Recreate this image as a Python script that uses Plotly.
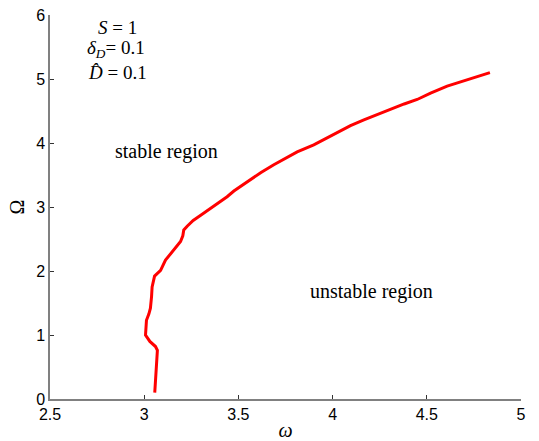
import plotly.graph_objects as go

# curve data (omega, Omega)
omega = [3.056, 3.060, 3.066, 3.072, 3.070, 3.060, 3.030, 3.007, 3.008, 3.012, 3.025,
         3.033, 3.039, 3.042, 3.055, 3.087, 3.113, 3.150, 3.193, 3.205, 3.210, 3.228,
         3.260, 3.300, 3.360, 3.440, 3.476, 3.520, 3.564, 3.620, 3.688, 3.750, 3.812,
         3.900, 3.989, 4.095, 4.166, 4.240, 4.307, 4.380, 4.449, 4.520, 4.608, 4.680,
         4.732, 4.790, 4.835]
Omega = [0.10, 0.30, 0.50, 0.71, 0.76, 0.82, 0.90, 1.00, 1.10, 1.23, 1.33,
         1.42, 1.60, 1.75, 1.92, 2.01, 2.17, 2.31, 2.46, 2.55, 2.64, 2.70,
         2.79, 2.87, 2.99, 3.16, 3.25, 3.34, 3.43, 3.54, 3.66, 3.76, 3.86,
         3.97, 4.11, 4.27, 4.36, 4.45, 4.53, 4.61, 4.68, 4.78, 4.89, 4.96,
         5.01, 5.06, 5.10]

x_ticks = [2.5, 3, 3.5, 4, 4.5, 5]
x_tick_labels = ["2.5", "3", "3.5", "4", "4.5", "5"]
y_ticks = [0, 1, 2, 3, 4, 5, 6]
y_tick_labels = ["0", "1", "2", "3", "4", "5", "6"]

serif = "Liberation Serif, Times New Roman, serif"

fig = go.Figure()
fig.add_trace(go.Scatter(x=omega, y=Omega, mode="lines",
                         line=dict(color="#ff0000", width=3), showlegend=False,
                         hoverinfo="skip"))

axis_common = dict(showgrid=False, zeroline=False, showline=True,
                   linecolor="#808080", linewidth=1.5, ticks="inside",
                   ticklen=4, tickcolor="#333333", tickwidth=1, automargin=False,
                   tickfont=dict(family="Liberation Sans, Arial, sans-serif",
                                 size=16, color="black"))

fig.update_layout(
    width=539, height=441,
    margin=dict(l=50, r=18, t=15, b=42),
    paper_bgcolor="white", plot_bgcolor="white",
    xaxis=dict(range=[2.5, 5], tickvals=x_ticks, ticktext=x_tick_labels,
               title=dict(text="<i>ω</i>", font=dict(family=serif, size=20, color="black"),
                          standoff=2),
               **axis_common),
    yaxis=dict(range=[0, 6], tickvals=y_ticks, ticktext=y_tick_labels,
               title=dict(text="Ω", font=dict(family=serif, size=20, color="black"),
                          standoff=6),
               **axis_common),
)

annots = [
    ("<i>S</i> = 1", 117, 27, 19),
    ("<i>δ</i><sub><i>D</i></sub>= 0.1", 116, 49, 19),
    ("<i>D̂</i> = 0.1", 117, 72, 19),
    ("stable region", 166, 151, 20),
    ("unstable region", 371, 291, 20),
]
for text, px, py, fs in annots:
    fig.add_annotation(text=text, xref="paper", yref="paper",
                       x=(px - 50) / 471, y=(399 - py) / 384,
                       xanchor="center", yanchor="middle", showarrow=False,
                       font=dict(family=serif, size=fs, color="black"))

fig.write_html("out.html", config={"displayModeBar": False},
               post_script="document.body.style.margin='0';")
